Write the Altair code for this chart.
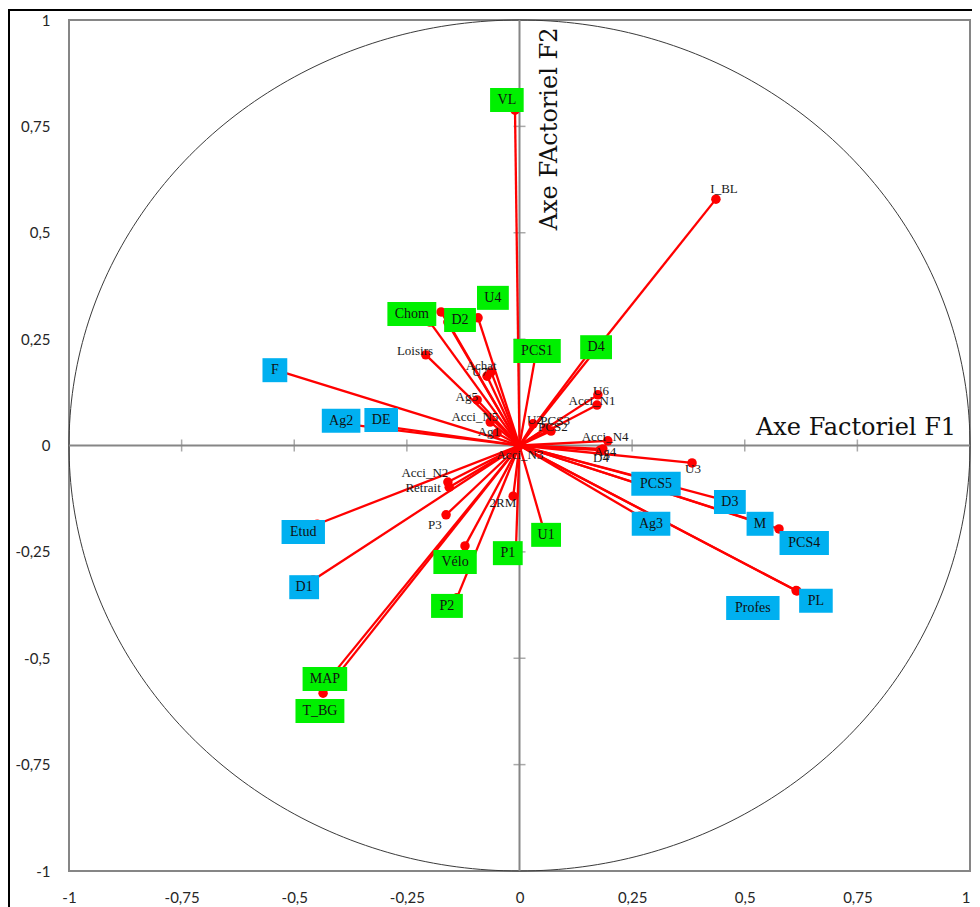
import altair as alt
import pandas as pd

# ---------------- data ----------------
# plain (unboxed) variables: end point and label anchor
plain_names = ["I_BL", "Loisirs", "Achat", "U7", "Ag5", "Acci_N5", "Ag1", "Acci_N3",
               "U2", "PCS3", "PCS2", "U6", "Acci_N1", "Acci_N4", "Ag4", "D4", "U3",
               "Acci_N2", "Retrait", "P3", "2RM", ""]
plain_x = [0.436, -0.208, -0.063, -0.072, -0.094, -0.065, -0.050, -0.003,
           0.030, 0.059, 0.070, 0.174, 0.172, 0.196, 0.185, 0.179, 0.383,
           -0.159, -0.156, -0.163, -0.014, -0.174]
plain_y = [0.579, 0.213, 0.173, 0.163, 0.107, 0.055, 0.029, -0.004,
           0.051, 0.041, 0.034, 0.119, 0.095, 0.011, -0.008, -0.011, -0.041,
           -0.086, -0.098, -0.163, -0.119, 0.314]
plain_lx = [0.454, -0.232, -0.085, -0.088, -0.117, -0.099, -0.068, 0.001,
            0.034, 0.079, 0.074, 0.181, 0.161, 0.190, 0.190, 0.181, 0.385,
            -0.210, -0.214, -0.188, -0.037, -0.174]
plain_ly = [0.603, 0.222, 0.187, 0.173, 0.114, 0.067, 0.032, -0.022,
            0.060, 0.058, 0.043, 0.128, 0.105, 0.020, -0.015, -0.029, -0.055,
            -0.065, -0.100, -0.187, -0.135, 0.314]

# green-boxed variables
green_names = ["VL", "Chom", "U4", "D2", "PCS1", "D4", "U1", "P1", "Vélo", "P2", "MAP", "T_BG"]
green_x = [-0.010, -0.199, -0.092, -0.159, 0.037, 0.156, 0.054, -0.008, -0.121, -0.139, -0.410, -0.436]
green_y = [0.788, 0.290, 0.300, 0.290, 0.220, 0.220, -0.199, -0.246, -0.236, -0.358, -0.532, -0.582]
green_lx = [-0.028, -0.239, -0.059, -0.132, 0.039, 0.170, 0.059, -0.026, -0.143, -0.161, -0.432, -0.443]
green_ly = [0.812, 0.309, 0.347, 0.295, 0.222, 0.231, -0.210, -0.253, -0.274, -0.377, -0.549, -0.624]

# blue-boxed variables
blue_names = ["F", "Ag2", "DE", "Etud", "D1", "PCS5", "D3", "M", "PCS4", "Ag3", "PL", "Profes"]
blue_x = [-0.531, -0.365, -0.287, -0.449, -0.458, 0.290, 0.452, 0.527, 0.576, 0.267, 0.616, 0.614]
blue_y = [0.174, 0.048, 0.043, -0.185, -0.316, -0.081, -0.128, -0.180, -0.196, -0.166, -0.342, -0.341]
blue_lx = [-0.543, -0.396, -0.307, -0.480, -0.478, 0.303, 0.467, 0.534, 0.632, 0.292, 0.658, 0.518]
blue_ly = [0.177, 0.058, 0.060, -0.203, -0.333, -0.090, -0.133, -0.184, -0.229, -0.184, -0.365, -0.382]

tick_values = [-1, -0.75, -0.5, -0.25, 0, 0.25, 0.5, 0.75, 1]
inner_ticks = [-0.75, -0.5, -0.25, 0.25, 0.5, 0.75]

# ---------------- layout ----------------
W, H = 901, 851
PX = 2.0 / W   # data units per pixel (x)
PY = 2.0 / H   # data units per pixel (y)


def text_px(s):
    w = 0.0
    for ch in s:
        if ch in "ilrftsj1":
            w += 5.0
        elif ch in "mw":
            w += 10.5
        elif ch in "MW":
            w += 11.0
        elif ch.isupper():
            w += 8.8
        elif ch.isdigit():
            w += 7.0
        elif ch == "_":
            w += 6.5
        else:
            w += 6.8
    return w + 16


def box_frame(names, lx, ly, kind):
    rows = []
    for n, a, b in zip(names, lx, ly):
        hw = text_px(n) / 2 * PX
        hh = 12 * PY
        rows.append(dict(name=n, lx=a, ly=b, x0=a - hw, x1=a + hw, y0=b - hh, y1=b + hh, kind=kind))
    return pd.DataFrame(rows)


pts = pd.DataFrame({
    "name": plain_names + green_names + blue_names,
    "x": plain_x + green_x + blue_x,
    "y": plain_y + green_y + blue_y,
})
plain_df = pd.DataFrame({"name": plain_names, "lx": plain_lx, "ly": plain_ly})
boxes = pd.concat([box_frame(green_names, green_lx, green_ly, "g"),
                   box_frame(blue_names, blue_lx, blue_ly, "b")], ignore_index=True)

xs = alt.Scale(domain=[-1, 1], nice=False, zero=False)
ys = alt.Scale(domain=[-1, 1], nice=False, zero=False)

lab_expr = "replace(toString(datum.value), '.', ',')"
x_axis = alt.Axis(values=tick_values, labelExpr=lab_expr, domain=False, ticks=False, tickSize=0,
                  grid=False, title=None, labelPadding=19, labelFont="Lato", labelFontSize=15,
                  labelColor="#262626", labelFlush=False, labelOverlap=False,
                  labelAlign={"condition": {"test": "datum.value == 1", "value": "right"},
                              "value": "center"})
y_axis = alt.Axis(values=tick_values, labelExpr=lab_expr, domain=False, ticks=False, tickSize=0,
                  grid=False, title=None, labelPadding=19, labelFont="Lato", labelFontSize=15,
                  labelColor="#262626", labelFlush=False, labelOverlap=False)

base_axes = alt.Chart(pd.DataFrame({"x": [0], "y": [0]})).mark_point(opacity=0).encode(
    x=alt.X("x:Q", scale=xs, axis=x_axis),
    y=alt.Y("y:Q", scale=ys, axis=y_axis),
)

outer = alt.Chart(pd.DataFrame({"a": [0]})).mark_rect(
    fill=None, stroke="black", strokeWidth=2
).encode(x=alt.value(-60), x2=alt.value(1000), y=alt.value(-10), y2=alt.value(1000))

circle = alt.Chart(alt.sequence(0, 361, 1, as_="t")).transform_calculate(
    cx="cos(datum.t*PI/180)", cy="sin(datum.t*PI/180)"
).mark_line(color="#3a3a3a", strokeWidth=1).encode(
    x=alt.X("cx:Q", scale=xs), y=alt.Y("cy:Q", scale=ys), order="t:Q"
)

hline = alt.Chart(pd.DataFrame({"a": [0]})).mark_rule(color="#868686", strokeWidth=2).encode(
    x=alt.datum(-1, scale=xs), x2=alt.datum(1), y=alt.datum(0, scale=ys))
vline = alt.Chart(pd.DataFrame({"a": [0]})).mark_rule(color="#868686", strokeWidth=2).encode(
    x=alt.datum(0, scale=xs), y=alt.datum(-1, scale=ys), y2=alt.datum(1))

xticks = alt.Chart(pd.DataFrame({"t": inner_ticks})).mark_tick(
    orient="vertical", size=12, thickness=1.5, color="#868686"
).encode(x=alt.X("t:Q", scale=xs), y=alt.datum(0, scale=ys))
yticks = alt.Chart(pd.DataFrame({"t": inner_ticks})).mark_tick(
    orient="horizontal", size=12, thickness=1.5, color="#868686"
).encode(y=alt.Y("t:Q", scale=ys), x=alt.datum(0, scale=xs))

rays = alt.Chart(pts).transform_calculate(ox="0", oy="0").mark_rule(
    color="#FF0000", strokeWidth=2.3
).encode(
    x=alt.X("ox:Q", scale=xs), y=alt.Y("oy:Q", scale=ys), x2="x:Q", y2="y:Q"
)

dots = alt.Chart(pts).mark_circle(color="#FF0000", opacity=1, size=90).encode(
    x=alt.X("x:Q", scale=xs), y=alt.Y("y:Q", scale=ys)
)

plain_labels = alt.Chart(plain_df).mark_text(
    font="Liberation Serif", fontSize=13, color="#1a1a1a", align="center", baseline="middle"
).encode(x=alt.X("lx:Q", scale=xs), y=alt.Y("ly:Q", scale=ys), text="name:N")

box_rects = alt.Chart(boxes).mark_rect(opacity=1).encode(
    x=alt.X("x0:Q", scale=xs), x2="x1:Q",
    y=alt.Y("y0:Q", scale=ys), y2="y1:Q",
    color=alt.Color("kind:N", scale=alt.Scale(domain=["g", "b"], range=["#00F000", "#00B0F0"]),
                    legend=None),
)
box_text = alt.Chart(boxes).mark_text(
    font="Liberation Serif", fontSize=14, color="#111111", align="center", baseline="middle"
).encode(x=alt.X("lx:Q", scale=xs), y=alt.Y("ly:Q", scale=ys), text="name:N")

titles = pd.DataFrame({"tx": [0.747], "ty": [0.041], "txt": ["Axe Factoriel F1"]})
title1 = alt.Chart(titles).mark_text(
    font="DejaVu Serif", fontSize=24, color="#111111", align="center", baseline="middle"
).encode(x=alt.X("tx:Q", scale=xs), y=alt.Y("ty:Q", scale=ys), text="txt:N")
titles2 = pd.DataFrame({"tx": [0.068], "ty": [0.744], "txt": ["Axe FActoriel F2"]})
title2 = alt.Chart(titles2).mark_text(
    font="DejaVu Serif", fontSize=24, color="#111111", align="center", baseline="middle", angle=270
).encode(x=alt.X("tx:Q", scale=xs), y=alt.Y("ty:Q", scale=ys), text="txt:N")

chart = alt.layer(
    base_axes, outer, circle, hline, vline, xticks, yticks, rays, dots,
    plain_labels, box_rects, box_text, title1, title2
).properties(
    width=W, height=H,
    autosize=alt.AutoSizeParams(type="none"),
    padding={"left": 61, "top": 12, "right": 2, "bottom": 36},
    background="white",
).configure_view(stroke="#868686", strokeWidth=2)

chart.save("out.html", embed_options={"renderer": "svg", "actions": False})
